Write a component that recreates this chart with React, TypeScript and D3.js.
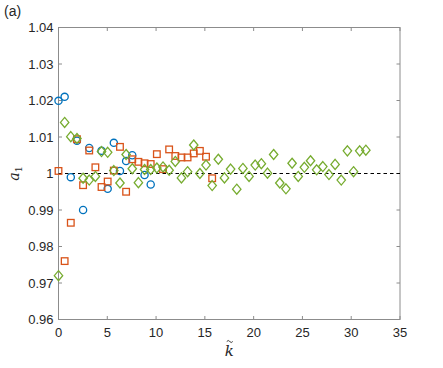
import React, { useEffect, useRef } from 'react';
import * as d3 from 'd3';

// k~ positions (x) and a1 values (y) for each series
const circleX = [0, 0.63, 1.26, 1.89, 2.52, 3.15, 4.41, 5.04, 5.67, 6.3, 6.93, 7.56, 8.82, 9.45];
const circleY = [1.0199, 1.021, 0.999, 1.009, 0.990, 1.007, 1.0062, 0.9958, 1.0084, 1.0007, 1.0034, 1.005, 0.9996, 0.997];

const squareX = [0, 0.63, 1.26, 1.89, 2.52, 3.15, 3.78, 4.41, 5.04, 5.67, 6.3, 6.93, 7.56, 8.19, 8.82, 9.45, 10.08, 10.71, 11.34, 11.97, 12.6, 13.23, 13.86, 14.49, 15.12, 15.75];
const squareY = [1.0007, 0.976, 0.9865, 1.0094, 0.9968, 1.0063, 1.0017, 0.9963, 0.9978, 1.0008, 1.0073, 0.995, 1.0039, 1.0032, 1.0028, 1.0026, 1.0053, 1.0012, 1.0066, 1.0048, 1.0044, 1.0044, 1.0055, 1.0062, 1.0046, 0.9987];

const diamondX = [0, 0.63, 1.26, 1.89, 2.52, 3.15, 3.78, 4.41, 5.04, 5.67, 6.3, 6.93, 7.56, 8.19, 8.82, 9.45, 10.08, 10.71, 11.34, 11.97, 12.6, 13.23, 13.86, 14.49, 15.12, 15.75, 16.38, 17.01, 17.64, 18.27, 18.9, 19.53, 20.16, 20.79, 21.42, 22.05, 22.68, 23.31, 23.94, 24.57, 25.2, 25.83, 26.46, 27.09, 27.72, 28.35, 28.98, 29.61, 30.24, 30.87, 31.5];
const diamondY = [0.972, 1.014, 1.0101, 1.0096, 0.9987, 0.9982, 0.9992, 1.006, 1.0058, 1.0008, 0.9974, 1.0052, 1.0013, 0.9975, 1.0011, 1.0011, 1.0015, 1.0018, 1.0009, 1.0033, 0.9988, 1.0005, 1.0078, 1.0, 1.0023, 0.9967, 1.0039, 0.9988, 1.0012, 0.9957, 1.0014, 0.9992, 1.0023, 1.0027, 1.0001, 1.0052, 0.9974, 0.9958, 1.0028, 0.9992, 1.0017, 1.0035, 1.001, 1.0019, 0.9997, 1.0025, 0.9982, 1.0062, 1.0005, 1.0062, 1.0064];

const xTicks = [0, 5, 10, 15, 20, 25, 30, 35];
const yTicks = [0.96, 0.97, 0.98, 0.99, 1, 1.01, 1.02, 1.03, 1.04];

const width = 443;
const height = 368;
const margin = { top: 27.5, right: 43, bottom: 48.5, left: 58.5 };

export default function App() {
  const svgRef = useRef<SVGSVGElement>(null);

  useEffect(() => {
    const svg = d3.select(svgRef.current);
    svg.selectAll('*').remove();

    const x = d3.scaleLinear().domain([0, 35]).range([margin.left, width - margin.right]);
    const y = d3.scaleLinear().domain([0.96, 1.04]).range([height - margin.bottom, margin.top]);
    const axisColor = '#8c8c8c';
    const font = 'Liberation Sans, Arial, sans-serif';

    // box
    svg
      .append('rect')
      .attr('x', x(0))
      .attr('y', y(1.04))
      .attr('width', x(35) - x(0))
      .attr('height', y(0.96) - y(1.04))
      .attr('fill', 'none')
      .attr('stroke', axisColor)
      .attr('stroke-width', 1);

    // ticks (inside, on all sides)
    const tl = 3.5;
    xTicks.forEach((t) => {
      svg.append('line').attr('x1', x(t)).attr('x2', x(t)).attr('y1', y(0.96)).attr('y2', y(0.96) - tl).attr('stroke', axisColor);
      svg.append('line').attr('x1', x(t)).attr('x2', x(t)).attr('y1', y(1.04)).attr('y2', y(1.04) + tl).attr('stroke', axisColor);
      svg
        .append('text')
        .attr('x', x(t))
        .attr('y', y(0.96) + 17)
        .attr('text-anchor', 'middle')
        .attr('font-family', font)
        .attr('font-size', 13)
        .attr('fill', '#262626')
        .text(t);
    });
    yTicks.forEach((t) => {
      svg.append('line').attr('x1', x(0)).attr('x2', x(0) + tl).attr('y1', y(t)).attr('y2', y(t)).attr('stroke', axisColor);
      svg.append('line').attr('x1', x(35)).attr('x2', x(35) - tl).attr('y1', y(t)).attr('y2', y(t)).attr('stroke', axisColor);
      svg
        .append('text')
        .attr('x', x(0) - 5)
        .attr('y', y(t) + 4.5)
        .attr('text-anchor', 'end')
        .attr('font-family', font)
        .attr('font-size', 13)
        .attr('fill', '#262626')
        .text(t === 1 ? '1' : d3.format('.2f')(t));
    });

    // reference line at a1 = 1
    svg
      .append('line')
      .attr('x1', x(0))
      .attr('x2', x(35))
      .attr('y1', y(1))
      .attr('y2', y(1))
      .attr('stroke', '#000')
      .attr('stroke-width', 1.2)
      .attr('stroke-dasharray', '3.5,3');

    // circles
    svg
      .append('g')
      .selectAll('circle')
      .data(circleX.map((d, i) => [d, circleY[i]]))
      .enter()
      .append('circle')
      .attr('cx', (d) => x(d[0]))
      .attr('cy', (d) => y(d[1]))
      .attr('r', 3.6)
      .attr('fill', 'none')
      .attr('stroke', '#0072BD')
      .attr('stroke-width', 1.3);

    // squares
    svg
      .append('g')
      .selectAll('rect')
      .data(squareX.map((d, i) => [d, squareY[i]]))
      .enter()
      .append('rect')
      .attr('x', (d) => x(d[0]) - 3.3)
      .attr('y', (d) => y(d[1]) - 3.3)
      .attr('width', 6.6)
      .attr('height', 6.6)
      .attr('fill', 'none')
      .attr('stroke', '#D95319')
      .attr('stroke-width', 1.3);

    // diamonds
    const diamond = 'M0,-5L4.2,0L0,5L-4.2,0Z';
    svg
      .append('g')
      .selectAll('path')
      .data(diamondX.map((d, i) => [d, diamondY[i]]))
      .enter()
      .append('path')
      .attr('d', diamond)
      .attr('transform', (d) => `translate(${x(d[0])},${y(d[1])})`)
      .attr('fill', 'none')
      .attr('stroke', '#77AC30')
      .attr('stroke-width', 1.3);

    // y label
    const ylab = svg
      .append('text')
      .attr('transform', `translate(19,${y(1)}) rotate(-90)`)
      .attr('text-anchor', 'middle')
      .attr('font-family', 'DejaVu Serif, serif')
      .attr('font-size', 14)
      .attr('fill', '#262626');
    ylab.append('tspan').attr('font-style', 'italic').text('a');
    ylab.append('tspan').attr('font-size', 10).attr('dy', 3).text('1');

    // x label k with tilde
    const kx = x(17.5);
    svg
      .append('text')
      .attr('x', kx)
      .attr('y', 356)
      .attr('text-anchor', 'middle')
      .attr('font-family', 'DejaVu Serif, serif')
      .attr('font-style', 'italic')
      .attr('font-size', 15)
      .attr('fill', '#262626')
      .text('k');
    svg
      .append('path')
      .attr('d', `M${kx - 2.5},${341.5} q1.5,-2 3,0 t3,0`)
      .attr('fill', 'none')
      .attr('stroke', '#262626')
      .attr('stroke-width', 0.9);

    svg
      .append('text')
      .attr('x', 4)
      .attr('y', 16)
      .attr('font-family', font)
      .attr('font-size', 14)
      .attr('fill', '#262626')
      .text('(a)');
  }, []);

  return (
    <svg
      ref={svgRef}
      width={width}
      height={height}
      style={{ position: 'absolute', left: 0, top: 0, background: '#fff' }}
    ></svg>
  );
}
